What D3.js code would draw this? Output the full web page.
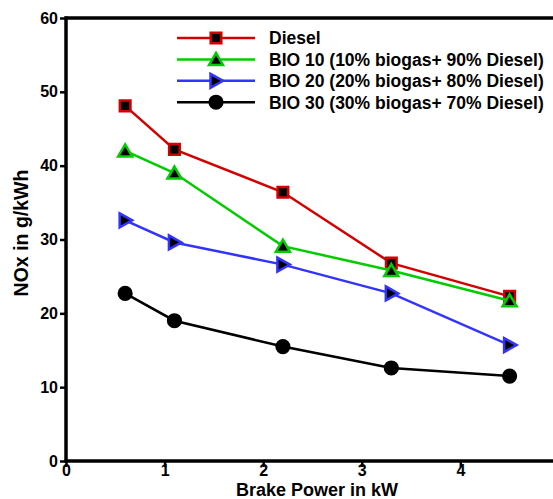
<!DOCTYPE html>
<html>
<head>
<meta charset="utf-8">
<script src="https://cdn.jsdelivr.net/npm/d3@7"></script>
<style>
  body { margin: 0; background: #fff; }
  text { font-family: 'Liberation Sans', Arial, sans-serif; font-weight: bold; }
</style>
</head>
<body>
<div id="chart"></div>
<script>
let power = [0.6, 1.1, 2.2, 3.3, 4.5]
let diesel = [48.1, 42.2, 36.4, 26.8, 22.3]
let bio10 = [42.0, 39.0, 29.1, 25.8, 21.7]
let bio20 = [32.6, 29.6, 26.6, 22.7, 15.7]
let bio30 = [22.7, 19.0, 15.5, 12.6, 11.5]
let seriesNames = [
  'Diesel',
  'BIO 10 (10% biogas+ 90% Diesel)',
  'BIO 20 (20% biogas+ 80% Diesel)',
  'BIO 30 (30% biogas+ 70% Diesel)'
]
let xTicks = [0, 1, 2, 3, 4]
let yTicks = [0, 10, 20, 30, 40, 50, 60]

let margin = { top: 18, left: 66, right: 0, bottom: 38 }
let width = 553 - margin.left - margin.right
let height = 499 - margin.top - margin.bottom

let svg = d3
  .select('#chart')
  .append('svg')
  .attr('width', 553)
  .attr('height', 499)
  .append('g')
  .attr('transform', 'translate(' + margin.left + ',' + margin.top + ')')

let xPositionScale = d3.scaleLinear().domain([0, 4.94]).range([0, width])
let yPositionScale = d3.scaleLinear().domain([0, 60]).range([height, 0])

let series = [
  { name: seriesNames[0], values: diesel, color: '#d40000', marker: 'square' },
  { name: seriesNames[1], values: bio10, color: '#00cc00', marker: 'triangle' },
  { name: seriesNames[2], values: bio20, color: '#3333ff', marker: 'right' },
  { name: seriesNames[3], values: bio30, color: '#000000', marker: 'circle' }
]

function markerPath(type) {
  if (type === 'square') return 'M-5.3,-5.3H5.3V5.3H-5.3Z'
  if (type === 'triangle') return 'M0,-6.5L7,5.5H-7Z'
  if (type === 'right') return 'M-5.5,-7L7,0L-5.5,7Z'
  return d3.symbol().type(d3.symbolCircle).size(180)()
}

// axes
let xAxis = d3.axisBottom(xPositionScale).tickValues(xTicks).tickSize(6).tickPadding(1).tickFormat(d3.format('d'))
svg
  .append('g')
  .attr('class', 'axis x-axis')
  .attr('transform', 'translate(0,' + height + ')')
  .call(xAxis)

let yAxis = d3.axisLeft(yPositionScale).tickValues(yTicks).tickSize(6).tickPadding(2)
svg
  .append('g')
  .attr('class', 'axis y-axis')
  .call(yAxis)

svg.selectAll('.axis .domain').remove()
svg.selectAll('.axis line').attr('stroke', '#000').attr('stroke-width', 2.5)
svg.selectAll('.axis text').attr('font-size', 16).attr('fill', '#000')
svg.selectAll('.x-axis text').attr('dy', '0.5em')

// frame lines
svg.append('line')
  .attr('x1', 0).attr('x2', 0).attr('y1', -1.5).attr('y2', height + 1.5)
  .attr('stroke', '#000').attr('stroke-width', 3.5)
svg.append('line')
  .attr('x1', -1.5).attr('x2', width).attr('y1', height).attr('y2', height)
  .attr('stroke', '#000').attr('stroke-width', 3.5)
svg.append('line')
  .attr('x1', -1.5).attr('x2', width).attr('y1', 0).attr('y2', 0)
  .attr('stroke', '#000').attr('stroke-width', 3.5)

let line = d3
  .line()
  .x((d, i) => xPositionScale(power[i]))
  .y(d => yPositionScale(d))

series.forEach(s => {
  svg
    .append('path')
    .datum(s.values)
    .attr('d', line)
    .attr('fill', 'none')
    .attr('stroke', s.color)
    .attr('stroke-width', 2.5)

  svg
    .selectAll('.m-' + s.marker)
    .data(s.values)
    .enter()
    .append('path')
    .attr('class', 'm-' + s.marker)
    .attr('transform', (d, i) => 'translate(' + xPositionScale(power[i]) + ',' + yPositionScale(d) + ')')
    .attr('d', markerPath(s.marker))
    .attr('fill', '#000')
    .attr('stroke', s.color)
    .attr('stroke-width', s.marker === 'circle' ? 0 : 2.5)
})

// legend
let legend = svg
  .append('g')
  .attr('transform', 'translate(' + (177 - margin.left) + ',' + (38 - margin.top) + ')')

series.forEach((s, i) => {
  let g = legend.append('g').attr('transform', 'translate(0,' + i * 21.4 + ')')
  g.append('line')
    .attr('x1', 0).attr('x2', 78)
    .attr('stroke', s.color)
    .attr('stroke-width', 2.5)
  g.append('path')
    .attr('transform', 'translate(39,0)')
    .attr('d', markerPath(s.marker))
    .attr('fill', '#000')
    .attr('stroke', s.color)
    .attr('stroke-width', s.marker === 'circle' ? 0 : 2.5)
  g.append('text')
    .attr('x', 92)
    .attr('dy', '0.36em')
    .attr('font-size', 17.5)
    .text(s.name)
})

// axis titles
svg
  .append('text')
  .attr('x', 317 - margin.left)
  .attr('y', 495.5 - margin.top)
  .attr('text-anchor', 'middle')
  .attr('font-size', 18)
  .text('Brake Power in kW')

svg
  .append('text')
  .attr('transform', 'translate(' + (28 - margin.left) + ',' + (233 - margin.top) + ') rotate(-90)')
  .attr('text-anchor', 'middle')
  .attr('font-size', 19.5)
  .text('NOx in g/kWh')
</script>
</body>
</html>
